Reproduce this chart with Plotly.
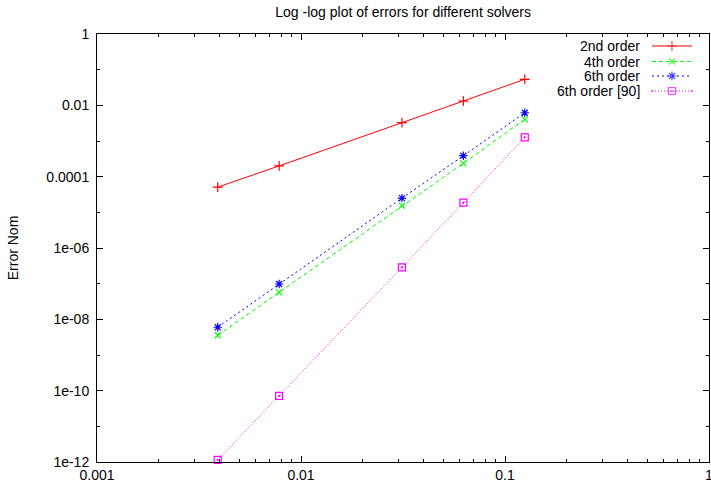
import plotly.graph_objects as go

# ---- data ----
h = [0.00390625, 0.0078125, 0.03125, 0.0625, 0.125]
err_2nd = [5.1e-5, 2.0e-4, 3.26e-3, 1.32e-2, 5.37e-2]
err_4th = [3.57e-9, 5.7e-8, 1.54e-5, 2.37e-4, 4.06e-3]
err_6th = [6.0e-9, 9.8e-8, 2.5e-5, 3.87e-4, 6.2e-3]
err_6th_90 = [1.14e-12, 7.1e-11, 2.88e-7, 1.87e-5, 1.27e-3]

series_names = ["2nd order", "4th order", "6th order", "6th order [90]"]
x_tickvals = [0.001, 0.01, 0.1, 1]
x_ticktext = ["0.001", "0.01", "0.1", "1"]
y_tickvals = [1e-12, 1e-10, 1e-8, 1e-6, 1e-4, 1e-2, 1]
y_ticktext = ["1e-12", "1e-10", "1e-08", "1e-06", "0.0001", "0.01", "1"]
y_minor = [1e-11, 1e-9, 1e-7, 1e-5, 1e-3, 1e-1]
x_minor = [m * 10 ** e for e in (-3, -2, -1) for m in range(2, 10)]

styles = [
    dict(color="#ff0000", dash="solid", symbol="cross-thin-open", size=7),
    dict(color="#00ff00", dash="4px,3px", symbol="x-thin-open", size=6),
    dict(color="#0000ff", dash="2px,3px", symbol="asterisk-open", size=7),
    dict(color="#ff00ff", dash="1px,2px", symbol="square-open-dot", size=7),
]
all_series = [err_2nd, err_4th, err_6th, err_6th_90]

FONT = "Liberation Sans, Arial, sans-serif"
FS = 14
fig = go.Figure()

for name, ys, st in zip(series_names, all_series, styles):
    fig.add_trace(go.Scatter(
        x=h, y=ys, name=name, mode="lines+markers",
        line=dict(color=st["color"], width=1, dash=st["dash"]),
        marker=dict(symbol=st["symbol"], size=st["size"],
                    color=st["color"], line=dict(color=st["color"], width=1.2)),
        showlegend=False, cliponaxis=False,
    ))

# gnuplot-style key: text right-aligned, sample to the right
key_rows = [0.972, 0.9357, 0.9019, 0.8668]
key_text_x = 0.8905
key_x0, key_xm, key_x1 = 0.9069, 0.9395, 0.9722
for name, st, ky in zip(series_names, styles, key_rows):
    fig.add_trace(go.Scatter(
        x=[key_x0, key_xm, key_x1], y=[ky, ky, ky], xaxis="x2", yaxis="y2",
        mode="lines+markers",
        line=dict(color=st["color"], width=1, dash=st["dash"]),
        marker=dict(symbol=st["symbol"], size=[0, st["size"], 0],
                    color=st["color"], line=dict(color=st["color"], width=1.2)),
        showlegend=False, hoverinfo="skip",
    ))
    fig.add_annotation(x=key_text_x, y=ky, xref="paper", yref="paper",
                       text=name, showarrow=False, xanchor="right",
                       yanchor="middle", font=dict(size=FS, color="black", family=FONT))

axis_common = dict(
    type="log", showgrid=False, zeroline=False, automargin=False,
    showline=True, linecolor="black", linewidth=1, mirror="ticks",
    ticks="inside", ticklen=6, tickcolor="black", tickwidth=1,
    ticklabeloverflow="allow",
    tickfont=dict(size=FS, color="black", family=FONT),
)

fig.update_layout(
    width=711, height=484,
    margin=dict(l=97, r=2, t=34, b=22),
    paper_bgcolor="white", plot_bgcolor="white",
    font=dict(family=FONT, size=FS, color="black"),
    title=dict(text="Log -log plot of errors for different solvers",
               x=0.567, xanchor="center", y=0.975, yanchor="middle",
               font=dict(size=FS, color="black", family=FONT)),
    xaxis=dict(axis_common, range=[-3, 0], tickmode="array",
               tickvals=x_tickvals, ticktext=x_ticktext,
               minor=dict(tickmode="array", tickvals=x_minor, ticks="inside",
                          ticklen=3, tickcolor="black", tickwidth=1)),
    yaxis=dict(axis_common, range=[-12, 0], tickmode="array",
               tickvals=y_tickvals, ticktext=y_ticktext,
               ticklabelstandoff=4,
               title=dict(text="Error Nom", standoff=24,
                          font=dict(size=FS, color="black", family=FONT)),
               minor=dict(tickmode="array", tickvals=y_minor, ticks="inside",
                          ticklen=3, tickcolor="black", tickwidth=1)),
    xaxis2=dict(overlaying="x", range=[0, 1], visible=False, fixedrange=True),
    yaxis2=dict(overlaying="y", range=[0, 1], visible=False, fixedrange=True),
)

fig.write_html("out.html",
               config={"displayModeBar": False},
               post_script="document.body.style.margin='0px';document.body.style.overflow='hidden';")
